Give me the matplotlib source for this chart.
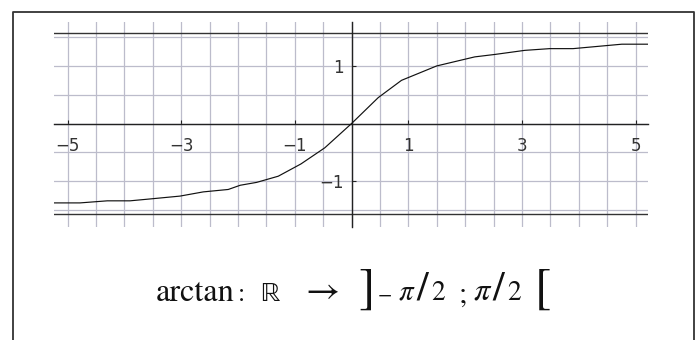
import numpy as np
import matplotlib
matplotlib.use("Agg")
import matplotlib.pyplot as plt
from matplotlib.ticker import MultipleLocator
from matplotlib.lines import Line2D
from matplotlib.font_manager import FontProperties

# ---- data ----
curve_x = [-5.24, -4.78, -4.30, -3.90, -3.52, -3.02, -2.61, -2.17, -1.96, -1.67,
           -1.29, -0.89, -0.47, 0.00, 0.47, 0.88, 1.50, 2.17, 2.53, 3.05,
           3.49, 3.90, 4.76, 5.22]
curve_y = [-1.376, -1.376, -1.340, -1.340, -1.305, -1.258, -1.185, -1.143, -1.070, -1.020,
           -0.913, -0.700, -0.420, 0.000, 0.450, 0.750, 1.000, 1.157, 1.200, 1.270,
           1.300, 1.300, 1.377, 1.377]
x_tick_values = [-5, -3, -1, 1, 3, 5]
x_tick_labels = ["\u22125", "\u22123", "\u22121", "1", "3", "5"]
y_tick_values = [-1, 1]
y_tick_labels = ["\u22121", "1"]
asymptote_values = [-np.pi / 2, np.pi / 2]
grid_step = 0.5
x_range = [-5.238, 5.220]
y_range = [-1.794, 1.762]

# caption pieces: text, style, ink box in pixels (left, right, top, bottom), fit by
caption_pieces = [
    ("arctan", "normal", (156.7, 233.3, 282.0, 300.7), "w"),
    (":", "normal", (240.0, 244.3, 288.7, 300.7), "h"),
    ("\u211D", "normal", (263.3, 285.0, 283.0, 300.7), "h"),
    ("\u2192", "normal", (309.3, 338.3, 287.3, 298.7), "w"),
    ("]", "normal", (361.7, 367.7, 269.7, 309.7), "h"),
    ("\u2212", "normal", (378.3, 390.0, 294.2, 295.4), "w"),
    ("\u03C0", "italic", (400.0, 415.0, 285.3, 299.7), "w"),
    ("/", "normal", (417.7, 429.0, 272.0, 300.7), "h"),
    ("2", "normal", (432.7, 446.7, 281.3, 299.7), "h"),
    (";", "normal", (461.0, 466.7, 288.7, 306.3), "h"),
    ("\u03C0", "italic", (475.0, 491.7, 285.3, 299.7), "w"),
    ("/", "normal", (493.3, 505.7, 272.0, 300.7), "h"),
    ("2", "normal", (509.0, 523.3, 281.3, 299.7), "h"),
    ("[", "normal", (538.3, 548.3, 269.7, 309.7), "h"),
]


def ink_extent(txt, prop, fs):
    """Ink box (left, right, top, bottom) in px relative to the text origin."""
    f = plt.figure(figsize=(6, 6), dpi=100)
    f.text(200 / 600, 1 - 300 / 600, txt, fontproperties=prop, fontsize=fs,
           ha="left", va="baseline", color="black")
    f.canvas.draw()
    a = np.asarray(f.canvas.buffer_rgba())[:, :, 0]
    ys, xs = np.nonzero(a < 140)
    plt.close(f)
    return xs.min() - 200, xs.max() + 1 - 200, ys.min() - 300, ys.max() + 1 - 300


W, H = 697, 340
fig = plt.figure(figsize=(W / 100, H / 100), dpi=100)
fig.patch.set_facecolor("white")

L, R, T, B = 54, 648, 22, 227
ax = fig.add_axes([L / W, 1 - B / H, (R - L) / W, (B - T) / H])
ax.set_facecolor("white")
ax.set_xlim(*x_range)
ax.set_ylim(*y_range)

ax.xaxis.set_minor_locator(MultipleLocator(grid_step))
ax.yaxis.set_minor_locator(MultipleLocator(grid_step))
ax.grid(which="both", color="#bcbccb", lw=0.9)
ax.set_axisbelow(True)

for s in ("top", "right"):
    ax.spines[s].set_visible(False)
ax.spines["left"].set_position("zero")
ax.spines["bottom"].set_position("zero")
for s in ("left", "bottom"):
    ax.spines[s].set_color("#222222")
    ax.spines[s].set_linewidth(1.0)

for v in asymptote_values:
    ax.axhline(v, color="#333333", lw=1.0, zorder=2)

ax.plot(curve_x, curve_y, color="#111111", lw=0.85, zorder=3)

ax.set_xticks(x_tick_values, x_tick_labels)
ax.set_yticks(y_tick_values, y_tick_labels)
ax.tick_params(which="minor", length=0)
ax.tick_params(axis="x", which="major", direction="in", length=3, width=0.8,
               pad=10, labelsize=12, labelcolor="#333333", color="#222222")
ax.tick_params(axis="y", which="major", direction="in", length=3, width=0.8,
               pad=5.5, labelsize=12, labelcolor="#333333", color="#222222")

# outer frame
fx = [13 / W, 13 / W, 694 / W, 694 / W]
fy = [0, 1 - 12 / H, 1 - 12 / H, 0]
fig.add_artist(Line2D(fx, fy, transform=fig.transFigure, color="#333333", lw=1.3))

# caption: each piece sized and placed from its ink box
for txt, style, (x0, x1, ytop, ybot), fit in caption_pieces:
    prop = FontProperties(family="STIXGeneral", style=style)
    l0, r0, t0, b0 = ink_extent(txt, prop, 60)
    if fit == "w":
        fs = 60 * (x1 - x0) / (r0 - l0)
    else:
        fs = 60 * (ybot - ytop) / (b0 - t0)
    l1, r1, t1, b1 = ink_extent(txt, prop, fs)
    ox = x0 - l1
    base = ybot - b1
    fig.text(ox / W, 1 - base / H, txt, fontproperties=prop, fontsize=fs,
             ha="left", va="baseline", color="#111111")

fig.savefig("out.png", dpi=100)
